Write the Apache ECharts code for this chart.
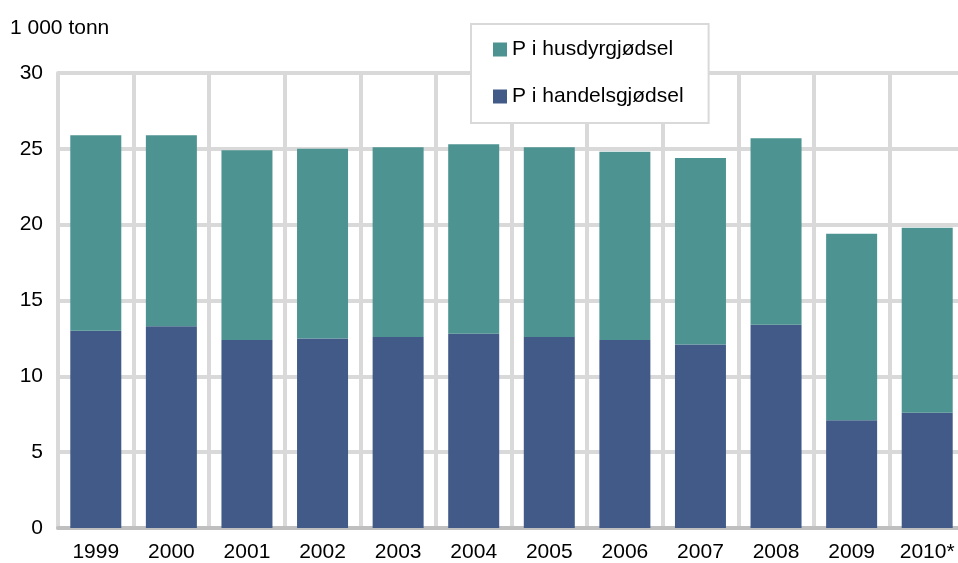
<!DOCTYPE html>
<html>
<head>
<meta charset="utf-8">
<script src="https://cdn.jsdelivr.net/npm/echarts@6/dist/echarts.min.js"></script>
<style>
  html, body { margin: 0; padding: 0; background: #fff; overflow: hidden; }
  /* plot runs a few px past the right edge, like the original */
  #chart { width: 966px; height: 563px; }
</style>
</head>
<body>
<div id="chart"></div>
<script>
// år (2010* = foreløpige tall)
const years = ['1999', '2000', '2001', '2002', '2003', '2004', '2005', '2006', '2007', '2008', '2009', '2010*']

// fosfor i handelsgjødsel, 1 000 tonn
const handels = [13.0, 13.3, 12.4, 12.5, 12.6, 12.8, 12.6, 12.4, 12.1, 13.4, 7.1, 7.6]

// fosfor i husdyrgjødsel, 1 000 tonn
const husdyr = [12.9, 12.6, 12.5, 12.5, 12.5, 12.5, 12.5, 12.4, 12.3, 12.3, 12.3, 12.2]

const yTicks = [0, 5, 10, 15, 20, 25, 30]

const font = 'Liberation Sans, Arial, sans-serif'
const gridColor = '#d9d9d9'

const chart = echarts.init(document.getElementById('chart'))

const option = {
  animation: false,
  textStyle: { fontFamily: font },
  graphic: [{
    type: 'text',
    left: 10,
    top: 18,
    style: {
      text: '1 000 tonn',
      fontSize: 21,
      fontFamily: font,
      fill: '#000',
    },
  }],
  legend: {
    orient: 'vertical',
    left: 471,
    top: 24,
    data: ['P i husdyrgjødsel', 'P i handelsgjødsel'],
    backgroundColor: '#fff',
    borderColor: gridColor,
    borderWidth: 2,
    borderRadius: 0,
    padding: [15, 25, 16, 22],
    itemWidth: 14,
    itemHeight: 14,
    itemGap: 26,
    icon: 'rect',
    textStyle: { fontSize: 21, color: '#000', fontFamily: font },
  },
  grid: {
    left: 58,
    right: 1,
    top: 73,
    bottom: 34,
    containLabel: false,
  },
  xAxis: {
    type: 'category',
    data: years,
    axisTick: { show: false },
    axisLine: { show: true, lineStyle: { color: '#bfbfbf', width: 4 } },
    axisLabel: { color: '#000', fontSize: 21, margin: 14, fontFamily: font },
    splitLine: { show: true, interval: 0, lineStyle: { color: gridColor, width: 4 } },
  },
  yAxis: {
    type: 'value',
    min: yTicks[0],
    max: yTicks[yTicks.length - 1],
    interval: 5,
    axisTick: { show: false },
    axisLine: { show: true, lineStyle: { color: gridColor, width: 4 } },
    axisLabel: { color: '#000', fontSize: 21, margin: 15, fontFamily: font },
    splitLine: { show: true, lineStyle: { color: gridColor, width: 4 } },
  },
  series: [{
    name: 'P i handelsgjødsel',
    type: 'bar',
    stack: 'p',
    barWidth: 51,
    itemStyle: { color: '#425A88' },
    data: handels,
  }, {
    name: 'P i husdyrgjødsel',
    type: 'bar',
    stack: 'p',
    barWidth: 51,
    itemStyle: { color: '#4C9391' },
    data: husdyr,
  }],
}

chart.setOption(option)
</script>
</body>
</html>
